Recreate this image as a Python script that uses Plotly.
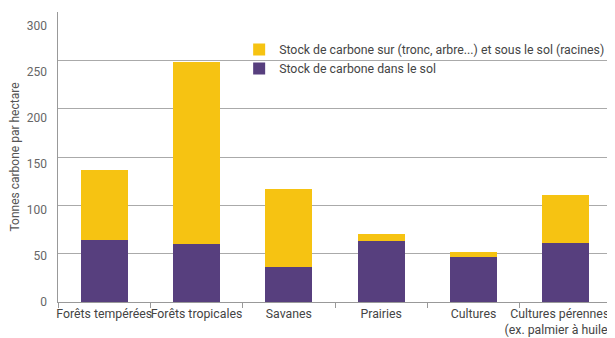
import plotly.graph_objs as go

categories = ['Forêts tempérées', 'Forêts tropicales', 'Savanes', 'Prairies',
              'Cultures', 'Cultures pérennes (ex. palmier à huile)']
tick_labels = ['Forêts tempérées', 'Forêts tropicales', 'Savanes', 'Prairies',
               'Cultures',
               'Cultures pérennes\u00a0\u00a0\u00a0\u00a0<br>(ex. palmier à huile)\u00a0\u00a0\u00a0\u00a0\u00a0']
y_ticks = [0, 50, 100, 150, 200, 250, 300]
sol = [64, 60, 36, 63, 47, 61]
total = [137, 248, 117, 70, 52, 111]
dessus = [t - s for t, s in zip(total, sol)]

font = 'Roboto, sans-serif'

data = [
    go.Bar(x=categories, y=sol, name='Stock de carbone dans le sol',
           marker=dict(color='#573f7e', line=dict(width=0))),
    go.Bar(x=categories, y=dessus,
           name='Stock de carbone sur (tronc, arbre...) et sous le sol (racines)',
           marker=dict(color='#f6c312', line=dict(width=0))),
    # empty trace so that the label axis gets drawn
    go.Scatter(x=categories[:1], y=[None], yaxis='y2', showlegend=False,
               hoverinfo='skip', mode='markers'),
]

# the page puts an 8px body margin round the figure, so it is drawn smaller
layout = go.Layout(
    width=607,
    height=330,
    barmode='stack',
    bargap=0.49,
    plot_bgcolor='white',
    paper_bgcolor='white',
    margin=dict(l=50, r=3, t=4, b=36, autoexpand=False),
    font=dict(family=font, size=12, color='#444'),
    showlegend=True,
    legend=dict(x=0.327, y=0.921, xanchor='left', yanchor='top',
                bgcolor='rgba(0,0,0,0)', font=dict(size=12.3, color='#444'),
                traceorder='reversed', itemwidth=30, tracegroupgap=0),
    xaxis=dict(
        automargin=False, tickangle=0,
        tickmode='array', tickvals=categories, ticktext=tick_labels,
        showline=True, linecolor='#999', linewidth=1,
        ticks='outside', tickson='boundaries', ticklen=5, tickcolor='#999',
        tickfont=dict(size=12.3, color='#444'),
    ),
    yaxis=dict(
        automargin=False,
        range=[0, 300], dtick=50,
        showgrid=True, gridcolor='#aaa', gridwidth=1,
        showline=True, linecolor='#999', linewidth=1,
        zeroline=False, showticklabels=False,
    ),
    # in the original the tick labels drift a little below their gridlines
    yaxis2=dict(
        overlaying='y', side='left', anchor='x',
        automargin=False,
        range=[0, 315], tickmode='array', tickvals=y_ticks,
        showgrid=False, zeroline=False, showline=False,
        ticklabeloverflow='allow',
        tickfont=dict(size=12, color='#666'),
        ticklabelstandoff=10,
        title=dict(text='Tonnes carbone par hectare', standoff=5,
                   font=dict(size=12, color='#555')),
    ),
)
fig = go.Figure(data=data, layout=layout)
fig.write_html('out.html')
